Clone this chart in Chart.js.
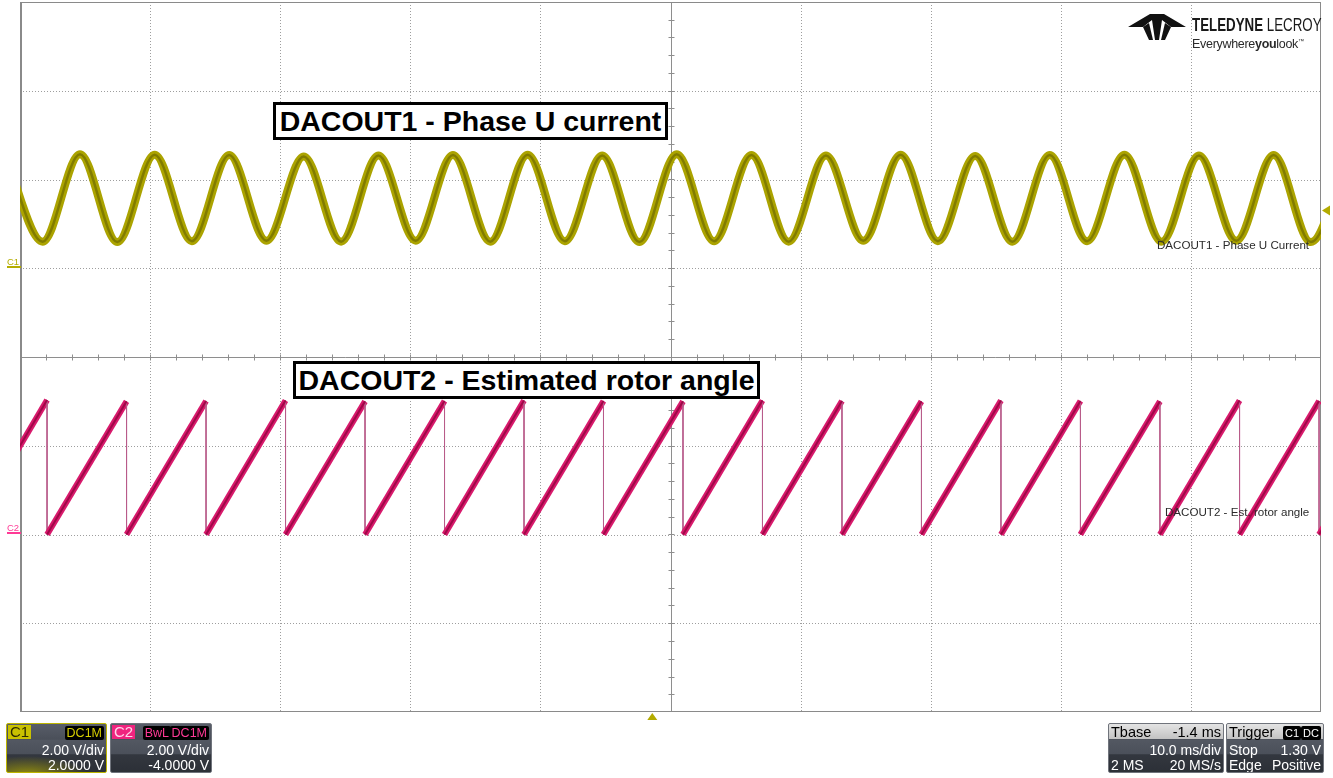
<!DOCTYPE html>
<html>
<head>
<meta charset="utf-8">
<title>DACOUT scope capture</title>
<script src="https://cdn.jsdelivr.net/npm/chart.js@4/dist/chart.umd.min.js"></script>
<style>
    html, body {
        margin: 0;
        padding: 0;
        background: #fff;
    }

    body {
        width: 1333px;
        height: 778px;
        position: relative;
        overflow: hidden;
        font-family: "Liberation Sans", Arial, sans-serif;
    }

    #scope {
        position: absolute;
        left: 0;
        top: 0;
    }

    .title-box {
        position: absolute;
        box-sizing: border-box;
        height: 38px;
        border: 3px solid #000;
        background: #fff;
        color: #000;
        font-weight: bold;
        font-size: 28.5px;
        line-height: 32px;
        text-align: center;
        white-space: nowrap;
    }

    .trace-label {
        position: absolute;
        font-size: 11.6px;
        line-height: 14px;
        color: #2b2b2b;
        white-space: nowrap;
    }

    .ch-marker {
        position: absolute;
        left: 7px;
        font-size: 9.5px;
        line-height: 9px;
        width: 14px;
        border-bottom: 2px solid;
    }

    .logo-top {
        position: absolute;
        left: 1192px;
        top: 16px;
        font-size: 18px;
        line-height: 19px;
        color: #1a1a1a;
        white-space: nowrap;
        transform: scaleX(0.74);
        transform-origin: left top;
    }

    .logo-bottom {
        position: absolute;
        left: 1192px;
        top: 35px;
        font-size: 12.5px;
        line-height: 13px;
        color: #2a2a2a;
        white-space: nowrap;
        letter-spacing: -0.3px;
    }

    .panel {
        position: absolute;
        top: 723px;
        height: 50px;
        box-sizing: border-box;
        border: 1px solid #70747c;
        border-radius: 2px;
        background: linear-gradient(#585d68 0%, #4a4f59 32%, #535862 33%, #4b505a 62%, #33373f 64%, #2c3037 100%);
        color: #fff;
        font-size: 14px;
        overflow: hidden;
    }

    .panel span {
        position: absolute;
        line-height: 14px;
        white-space: nowrap;
    }

    .tag {
        font-size: 15px;
        padding: 0 2px;
    }

    .badge {
        background: #000;
        font-size: 12.5px;
        padding: 0 2px;
        border-radius: 2px;
    }

    .panel .head {
        left: 0;
        top: 0;
        right: 0;
        height: 15px;
        background: linear-gradient(#e4e4e4, #c2c2c2);
    }
</style>
</head>
<body>

<canvas id="scope" width="1333" height="778"></canvas>

<div class="title-box" style="left:273px; top:102px; width:395px;">DACOUT1 - Phase U current</div>
<div class="title-box" style="left:293px; top:361px; width:467px;">DACOUT2 - Estimated rotor angle</div>

<div class="trace-label" style="left:1157px; top:238px;">DACOUT1 - Phase U Current</div>
<div class="trace-label" style="left:1165px; top:505px;">DACOUT2 - Est. rotor angle</div>

<div class="ch-marker" style="top:257px; color:#b5ad00;">C1</div>
<div class="ch-marker" style="top:523px; color:#ff3a96;">C2</div>

<svg style="position:absolute; left:1126px; top:11px;" width="62" height="30" viewBox="0 0 62 30">
    <polygon fill="#111" points="2,16 24,3 38,3 60,16 45,16 36,9 33,29 29,29 26,9 17,16"/>
    <polygon fill="#111" points="17,16 23,12 27,29 23,29"/>
    <polygon fill="#111" points="45,16 39,12 35,29 39,29"/>
</svg>
<div class="logo-top"><b>TELEDYNE</b> LECROY</div>
<div class="logo-bottom">Everywhere<b>you</b>look<sup style="font-size:6px;">™</sup></div>

<div class="panel" style="left:6px; width:101px; border-color:#bdb500; background: radial-gradient(ellipse 60px 18px at 20px 50px, #8f8a10 0%, rgba(143,138,16,0) 100%), linear-gradient(#585d68 0%, #4a4f59 32%, #535862 33%, #4b505a 62%, #33373f 64%, #2c3037 100%);">
    <span class="tag" style="left:1px; top:1px; background:#c9c100; color:#2e2b00;">C1</span>
    <span class="badge" style="right:2px; top:2px; color:#d6ce00;">DC1M</span>
    <span style="right:2px; top:19px;">2.00 V/div</span>
    <span style="right:2px; top:34px;">2.0000 V</span>
</div>

<div class="panel" style="left:110px; width:102px;">
    <span class="tag" style="left:1px; top:1px; background:#f0247f; color:#ffd6ea;">C2</span>
    <span class="badge" style="right:40px; top:2px; color:#ff3a96;">BwL</span>
    <span class="badge" style="right:2px; top:2px; color:#ff3a96;">DC1M</span>
    <span style="right:2px; top:19px;">2.00 V/div</span>
    <span style="right:2px; top:34px;">-4.0000 V</span>
</div>

<div class="panel" style="left:1108px; width:116px;">
    <span class="head"></span>
    <span style="left:2px; top:1px; color:#000; font-size:14.5px;">Tbase</span>
    <span style="right:2px; top:1px; color:#000; font-size:14.5px;">-1.4 ms</span>
    <span style="right:2px; top:19px;">10.0 ms/div</span>
    <span style="left:2px; top:34px;">2 MS</span>
    <span style="right:2px; top:34px;">20 MS/s</span>
</div>

<div class="panel" style="left:1226px; width:98px;">
    <span class="head"></span>
    <span style="left:2px; top:1px; color:#000; font-size:14.5px;">Trigger</span>
    <span class="badge" style="right:22px; top:2px; color:#fff; font-size:11px;">C1</span>
    <span class="badge" style="right:2px; top:2px; color:#fff; font-size:11px;">DC</span>
    <span style="left:2px; top:19px;">Stop</span>
    <span style="right:2px; top:19px;">1.30 V</span>
    <span style="left:2px; top:34px;">Edge</span>
    <span style="right:2px; top:34px;">Positive</span>
</div>

<script>

    /*
    =====================================
    SCOPE SETTINGS
    =====================================
    */

    // screen time in ms, 10 ms/div over 10 divisions
    const timeDivs = [0, 10, 20, 30, 40, 50, 60, 70, 80, 90, 100];

    // C1: 2 V/div, offset +2 V -> screen spans -10..6 V
    const c1VoltDivs = [-10, -8, -6, -4, -2, 0, 2, 4, 6];

    // C2: 2 V/div, offset -4 V -> screen spans -4..12 V
    const c2VoltDivs = [-4, -2, 0, 2, 4, 6, 8, 10, 12];

    const triggerTimeMs = 48.6;
    const triggerLevelV = 1.30;

    /*
    =====================================
    TRACES
    =====================================
    */

    // DACOUT1 - phase U current: peaks and troughs
    const phaseUTimesMs = [
        -1.12, 1.74, 4.61, 7.48, 10.35, 13.21, 16.08, 18.94, 21.81, 24.68,
        27.55, 30.41, 33.28, 36.15, 39.02, 41.88, 44.75, 47.61, 50.48, 53.35,
        56.22, 59.08, 61.95, 64.82, 67.69, 70.55, 73.42, 76.28, 79.15, 82.02,
        84.89, 87.75, 90.62, 93.49, 96.36, 99.22, 102.09
    ];

    const phaseUVolts = [
        2.53, 0.60, 2.57, 0.59, 2.56, 0.61, 2.55, 0.62, 2.52, 0.60,
        2.54, 0.62, 2.55, 0.60, 2.56, 0.61, 2.54, 0.59, 2.57, 0.61,
        2.55, 0.60, 2.54, 0.62, 2.56, 0.61, 2.53, 0.60, 2.55, 0.61,
        2.56, 0.60, 2.54, 0.62, 2.55, 0.59, 2.54
    ];

    // DACOUT2 - estimated rotor angle: ramp bottoms and tops
    const rotorAngleTimesMs = [
        -4.03, 2.08, 2.08, 8.19, 8.19, 14.30, 14.30, 20.41, 20.41, 26.52,
        26.52, 32.63, 32.63, 38.74, 38.74, 44.85, 44.85, 50.96, 50.96, 57.07,
        57.07, 63.18, 63.18, 69.29, 69.29, 75.40, 75.40, 81.51, 81.51, 87.62,
        87.62, 93.74, 93.74, 99.85, 99.85, 105.96
    ];

    const rotorAngleVolts = [
        0.00, 3.03, 0.00, 3.00, 0.00, 3.01, 0.00, 3.02, 0.00, 3.00,
        0.00, 3.01, 0.00, 3.02, 0.00, 3.01, 0.00, 3.00, 0.00, 3.02,
        0.00, 3.01, 0.00, 3.00, 0.00, 3.02, 0.00, 3.01, 0.00, 3.00,
        0.00, 3.02, 0.00, 3.01, 0.00, 3.00
    ];

    const toPoints = (xs, ys) => xs.map((x, i) => ({ x, y: ys[i] }));

    const phaseUPoints = toPoints(phaseUTimesMs, phaseUVolts);
    const rotorAnglePoints = toPoints(rotorAngleTimesMs, rotorAngleVolts);

    const isDrop = ctx => ctx.p1.parsed.y < ctx.p0.parsed.y;

    /*
    =====================================
    GRATICULE + MARKERS
    =====================================
    */

    const graticule = {
        id: "graticule",

        beforeDatasetsDraw(chart) {

            const { ctx, chartArea: a, scales } = chart;
            const x = scales.x;
            const y = scales.yC1;

            const line = (x1, y1, x2, y2) => {
                ctx.beginPath();
                ctx.moveTo(x1, y1);
                ctx.lineTo(x2, y2);
                ctx.stroke();
            };

            ctx.save();
            ctx.lineWidth = 1;

            // dotted division lines
            ctx.strokeStyle = "#9e9e9e";
            ctx.setLineDash([1, 2]);

            timeDivs.slice(1, -1).forEach((t, i) => {
                if (i === 4) return;
                const px = Math.round(x.getPixelForValue(t)) + 0.5;
                line(px, a.top, px, a.bottom);
            });

            c1VoltDivs.slice(1, -1).forEach((v, i) => {
                if (i === 3) return;
                const py = Math.round(y.getPixelForValue(v)) + 0.5;
                line(a.left, py, a.right, py);
            });

            // solid centre cross with fifth-division ticks
            ctx.setLineDash([]);
            ctx.strokeStyle = "#8e8e8e";

            const cx = Math.round(x.getPixelForValue(timeDivs[5])) + 0.5;
            const cy = Math.round(y.getPixelForValue(c1VoltDivs[4])) + 0.5;

            line(cx, a.top, cx, a.bottom);
            line(a.left, cy, a.right, cy);

            for (let t = 2; t < 100; t += 2) {
                const px = Math.round(x.getPixelForValue(t)) + 0.5;
                line(px, cy - 3, px, cy + 3);
            }

            for (let v = -9.6; v < 6; v += 0.4) {
                const py = Math.round(y.getPixelForValue(v)) + 0.5;
                line(cx - 3, py, cx + 3, py);
            }

            // frame
            ctx.strokeStyle = "#8a8a8a";
            ctx.strokeRect(a.left + 0.5, a.top + 0.5, a.right - a.left - 1, a.bottom - a.top - 1);
            ctx.lineWidth = 2;
            line(a.left + 1, a.top, a.left + 1, a.bottom);

            ctx.restore();
        },

        afterDatasetsDraw(chart) {

            const { ctx, chartArea: a, scales } = chart;

            ctx.save();
            ctx.fillStyle = "#b3ab00";

            // trigger level
            const ty = scales.yC1.getPixelForValue(triggerLevelV);
            ctx.beginPath();
            ctx.moveTo(a.right + 1, ty);
            ctx.lineTo(a.right + 9, ty - 5);
            ctx.lineTo(a.right + 9, ty + 5);
            ctx.closePath();
            ctx.fill();

            // trigger position
            const tx = scales.x.getPixelForValue(triggerTimeMs);
            ctx.beginPath();
            ctx.moveTo(tx, a.bottom + 1);
            ctx.lineTo(tx - 5, a.bottom + 8);
            ctx.lineTo(tx + 5, a.bottom + 8);
            ctx.closePath();
            ctx.fill();

            ctx.restore();
        }
    };

    /*
    =====================================
    CHART
    =====================================
    */

    new Chart(document.getElementById("scope"), {

        type: "line",

        data: {
            datasets: [
                {
                    data: phaseUPoints,
                    yAxisID: "yC1",
                    order: 1,
                    borderColor: "#aba300",
                    borderWidth: 8,
                    cubicInterpolationMode: "monotone",
                    borderJoinStyle: "round",
                    clip: 0
                },
                {
                    data: phaseUPoints,
                    yAxisID: "yC1",
                    order: 0,
                    borderColor: "#817b00",
                    borderWidth: 2.5,
                    cubicInterpolationMode: "monotone",
                    clip: 0
                },
                {
                    data: rotorAnglePoints,
                    yAxisID: "yC2",
                    order: 1,
                    borderColor: "#d81a6c",
                    borderWidth: 6,
                    borderJoinStyle: "miter",
                    clip: 0,
                    segment: {
                        borderWidth: ctx => isDrop(ctx) ? 1 : 6,
                        borderColor: ctx => isDrop(ctx) ? "#b85c8a" : "#d81a6c"
                    }
                },
                {
                    data: rotorAnglePoints,
                    yAxisID: "yC2",
                    order: 0,
                    borderColor: "#a00848",
                    borderWidth: 2,
                    clip: 0,
                    segment: {
                        borderColor: ctx => isDrop(ctx) ? "rgba(0,0,0,0)" : "#a00848"
                    }
                }
            ]
        },

        options: {

            responsive: false,
            devicePixelRatio: 1,
            animation: false,
            events: [],

            layout: {
                padding: { left: 20, top: 2, right: 12, bottom: 66 }
            },

            elements: {
                point: { radius: 0, hoverRadius: 0 },
                line: { tension: 0 }
            },

            plugins: {
                legend: { display: false },
                tooltip: { enabled: false },
                title: { display: false }
            },

            scales: {
                x: {
                    type: "linear",
                    display: false,
                    min: timeDivs[0],
                    max: timeDivs[timeDivs.length - 1]
                },
                yC1: {
                    type: "linear",
                    display: false,
                    min: c1VoltDivs[0],
                    max: c1VoltDivs[c1VoltDivs.length - 1]
                },
                yC2: {
                    type: "linear",
                    display: false,
                    min: c2VoltDivs[0],
                    max: c2VoltDivs[c2VoltDivs.length - 1]
                }
            }
        },

        plugins: [graticule]
    });

</script>
</body>
</html>
